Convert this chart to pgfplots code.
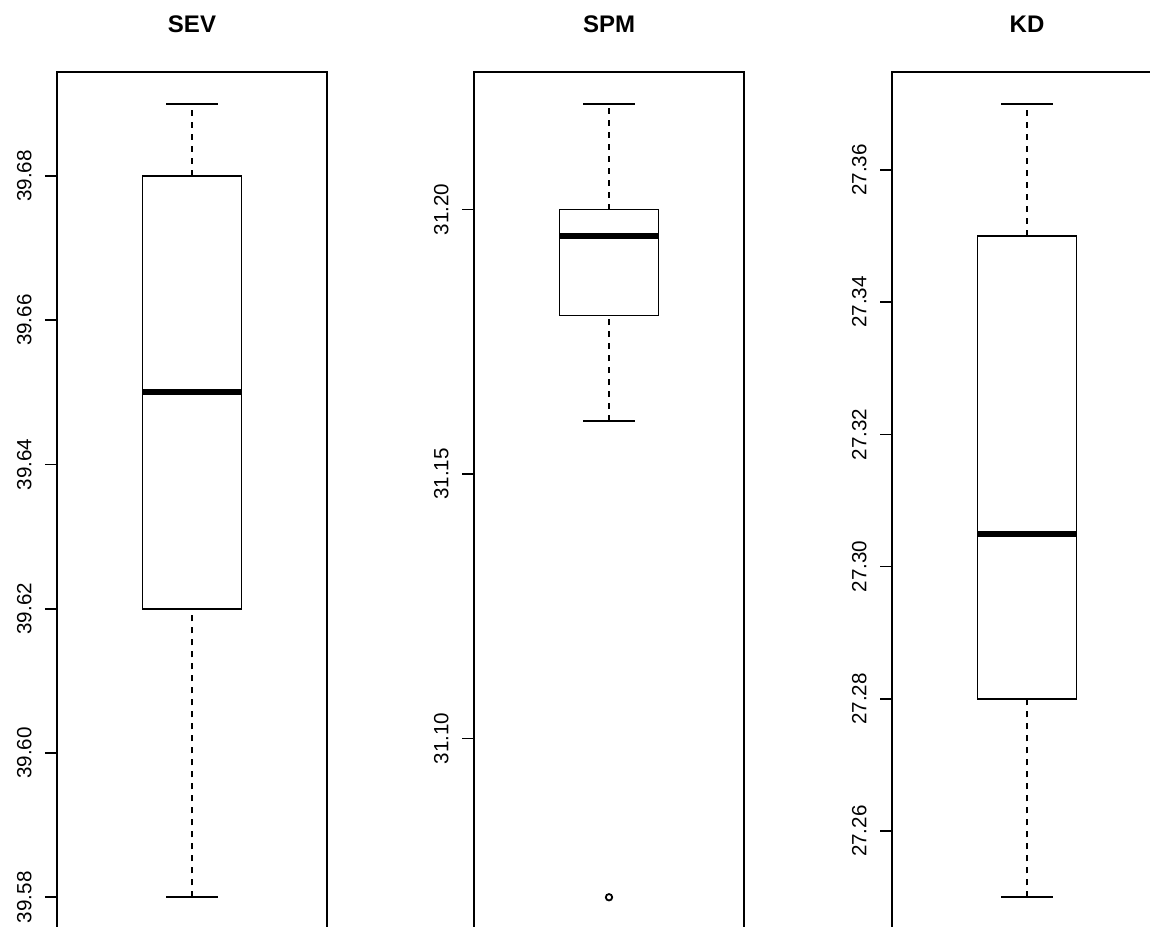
\documentclass[border=0pt]{standalone}
\usepackage{pgfplots}
\pgfplotsset{compat=1.18}
\usepgfplotslibrary{statistics}
\usepackage{fontspec}
\setmainfont{Liberation Sans}
\pgfplotsset{
  rbox/.style={
    width=135pt, height=428.5pt, scale only axis,
    anchor=south west,
    xmin=0, xmax=2, xtick=\empty,
    axis line style={line width=0.8pt},
    ytick pos=left, major tick length=6pt, tick align=outside,
    ytick style={line width=0.8pt, black},
    yticklabel style={rotate=90, anchor=south, inner sep=0pt, font=\fontsize{10.3}{12}\selectfont},
    yticklabel shift=6.5pt,
    title style={at={(0.5,1)}, anchor=base, yshift=13.5pt, font=\fontsize{12}{14}\selectfont\bfseries},
    boxplot/draw direction=y,
    boxplot/box extend=0.733,
    boxplot/whisker extend=0,
    boxplot/every box/.style={line width=0.8pt},
    boxplot/every median/.style={line width=3pt},
    clip=false,
  },
  whisk/.style={black, line width=0.8pt, dash pattern=on 3pt off 3pt},
  cap/.style={black, line width=0.8pt},
}
\begin{document}
\begin{tikzpicture}
\useasboundingbox (0,0) rectangle (575pt,463pt);
\clip (0,0) rectangle (575pt,463pt);
% SEV
\begin{axis}[rbox, at={(28.5pt,-1.5pt)}, title={SEV},
  ymin=39.5756, ymax=39.6944,
  ytick={39.58,39.60,39.62,39.64,39.66,39.68},
  yticklabels={39.58,39.60,39.62,39.64,39.66,39.68}]
\addplot[whisk] coordinates {(1,39.58) (1,39.62)};
\addplot[whisk] coordinates {(1,39.68) (1,39.69)};
\addplot[cap] coordinates {(0.811,39.58) (1.189,39.58)};
\addplot[cap] coordinates {(0.811,39.69) (1.189,39.69)};
\addplot[black, boxplot prepared={draw position=1,
  lower whisker=39.62, lower quartile=39.62, median=39.65,
  upper quartile=39.68, upper whisker=39.68}] coordinates {};
\end{axis}
% SPM
\begin{axis}[rbox, at={(237pt,-1.5pt)}, title={SPM},
  ymin=31.064, ymax=31.226,
  ytick={31.10,31.15,31.20},
  yticklabels={31.10,31.15,31.20}]
\addplot[whisk] coordinates {(1,31.16) (1,31.18)};
\addplot[whisk] coordinates {(1,31.20) (1,31.22)};
\addplot[cap] coordinates {(0.811,31.16) (1.189,31.16)};
\addplot[cap] coordinates {(0.811,31.22) (1.189,31.22)};
\addplot[black, boxplot prepared={draw position=1,
  lower whisker=31.18, lower quartile=31.18, median=31.195,
  upper quartile=31.20, upper whisker=31.20},
  mark=o, mark size=1.6pt, mark options={line width=0.9pt}]
  table[row sep=\\, y index=0] {data\\ 31.07\\};
\end{axis}
% KD
\begin{axis}[rbox, at={(446pt,-1.5pt)}, title={KD},
  ymin=27.2452, ymax=27.3748,
  ytick={27.26,27.28,27.30,27.32,27.34,27.36},
  yticklabels={27.26,27.28,27.30,27.32,27.34,27.36}]
\addplot[whisk] coordinates {(1,27.25) (1,27.28)};
\addplot[whisk] coordinates {(1,27.35) (1,27.37)};
\addplot[cap] coordinates {(0.811,27.25) (1.189,27.25)};
\addplot[cap] coordinates {(0.811,27.37) (1.189,27.37)};
\addplot[black, boxplot prepared={draw position=1,
  lower whisker=27.28, lower quartile=27.28, median=27.305,
  upper quartile=27.35, upper whisker=27.35}] coordinates {};
\end{axis}
\end{tikzpicture}
\end{document}
